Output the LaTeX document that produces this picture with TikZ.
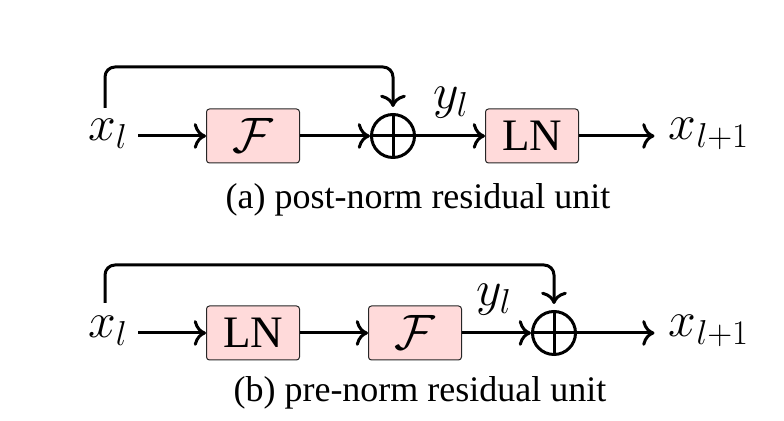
\documentclass[tikz,border=0pt]{standalone}
\usepackage{fontspec}
\setmainfont{Liberation Serif}
\usetikzlibrary{calc,arrows.meta}
\definecolor{boxpink}{RGB}{255,218,218}
\begin{document}
\begin{tikzpicture}[x=0.5pt,y=-0.5pt,
  lbl/.style={font=\fontsize{27}{32}\selectfont, inner sep=1pt},
  blk/.style={draw=black!85, line width=0.5pt, fill=boxpink, rounded corners=1.5pt,
    minimum width=46.5pt, minimum height=27pt, inner sep=0pt, font=\fontsize{22.5}{27}\selectfont},
  mathbig/.style={font=\fontsize{26}{30}\selectfont},
  sumnode/.style={circle, draw, line width=1.5pt, minimum size=21.5pt, inner sep=0pt,
    path picture={\draw[line width=1.5pt] (path picture bounding box.north) -- (path picture bounding box.south)
      (path picture bounding box.west) -- (path picture bounding box.east);}},
  arr/.style={-{To[scale=1.25]}, line width=1.5pt},
  captxt/.style={font=\fontsize{18}{22}\selectfont}]
\useasboundingbox (0,0) rectangle (784,421);

% (a) post-norm
\node[lbl] (xa) at (108,134) {$x_l$};
\node[blk, mathbig] (fa) at (253,136) {$\mathcal{F}$};
\node[sumnode] (pa) at (393,136) {};
\node[blk] (lna) at (532,136) {LN};
\node[lbl] (xa2) at (709,134) {$x_{l+1}$};
\node[lbl] (ya) at (451,103) {$y_l$};
\node[captxt] (capa) at (418,200) {(a) post-norm residual unit};
\coordinate (sa) at (105,108);
\coordinate (ta) at (105,67);

\draw[arr, shorten <=4pt] (xa.east |- fa.west) -- (fa);
\draw[arr] (fa) -- (pa);
\draw[arr] (pa) -- (lna);
\draw[arr, shorten >=6pt] (lna) -- (lna -| xa2.west);
\draw[arr, rounded corners=5pt, shorten >=3pt] (sa) -- (ta) -| (pa.north);

% (b) pre-norm
\node[lbl] (xb) at (108,331) {$x_l$};
\node[blk] (lnb) at (253,333) {LN};
\node[blk, mathbig] (fb) at (415,333) {$\mathcal{F}$};
\node[sumnode] (pb) at (554,333) {};
\node[lbl] (xb2) at (709,331) {$x_{l+1}$};
\node[lbl] (yb) at (494,300) {$y_l$};
\node[captxt] (capb) at (420,393) {(b) pre-norm residual unit};
\coordinate (sb) at (105,303);
\coordinate (tb) at (105,265);

\draw[arr, shorten <=4pt] (xb.east |- lnb.west) -- (lnb);
\draw[arr] (lnb) -- (fb);
\draw[arr] (fb) -- (pb);
\draw[arr, shorten >=6pt] (pb) -- (pb -| xb2.west);
\draw[arr, rounded corners=5pt, shorten >=3pt] (sb) -- (tb) -| (pb.north);
\end{tikzpicture}
\end{document}
